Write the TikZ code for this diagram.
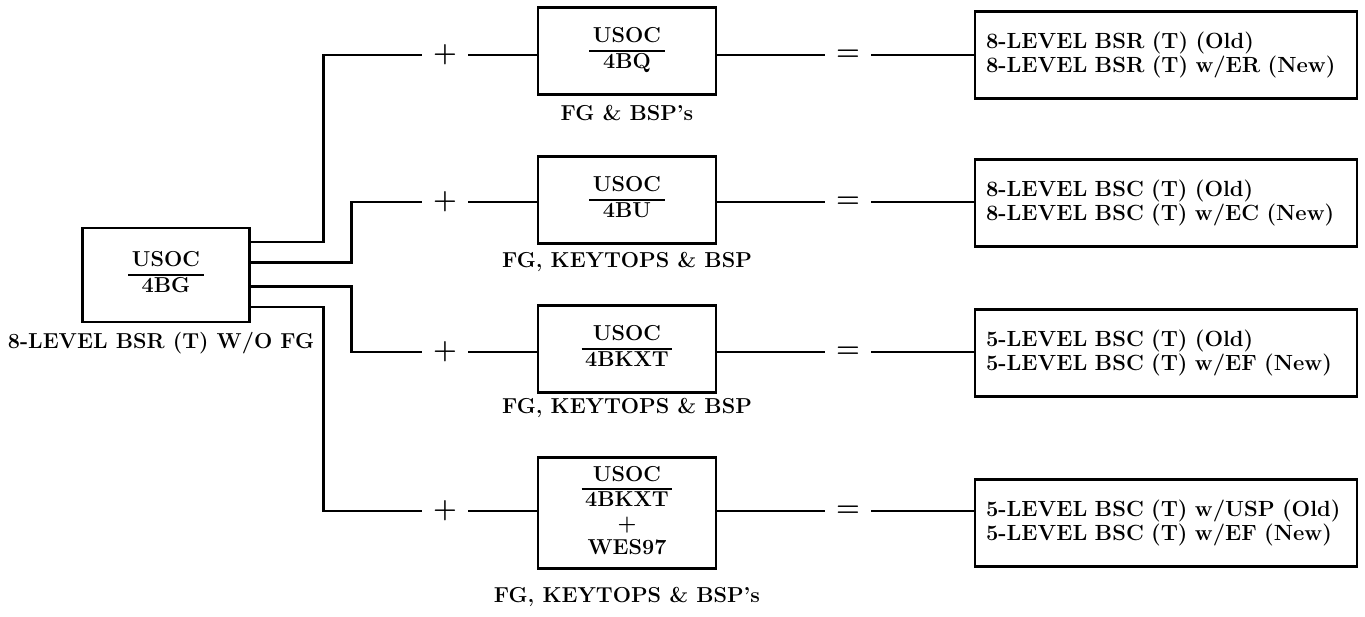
\documentclass[tikz,border=0pt]{standalone}
\usepackage{tikz}
\usetikzlibrary{calc}
\setlength{\arrayrulewidth}{1.2pt}
\newcommand{\usoc}[1]{\begin{tabular}{@{\,}c@{\,}}USOC\\\hline #1\end{tabular}}

\begin{document}
\begin{tikzpicture}[x=0.02cm, y=-0.02cm, line width=1.6pt,
      every node/.style={font=\fontsize{12.3}{13.5}\selectfont\bfseries},
      usocbox/.style={draw,minimum width=3.56cm,minimum height=1.74cm,inner sep=0pt},
      resultbox/.style={draw,minimum width=7.64cm,minimum height=1.74cm,text width=7.2cm,align=left,inner xsep=0.22cm,
        font=\fontsize{12.5}{13.6}\selectfont\bfseries},
      sign/.style={font=\fontsize{15.5}{15.5}\selectfont\bfseries,minimum width=0.88cm,inner sep=0pt}]
      \useasboundingbox (0,0) rectangle (1365,617);
      % source set
      \node[usocbox,minimum width=3.34cm,minimum height=1.88cm] (bg) at (166,275) {\usoc{4BG}};
      \node (bglabel) at (161,343) {8-LEVEL BSR (T) W/O FG};
      % added sets
      \node[usocbox] (bq) at (627,51) {\usoc{4BQ}};
      \node (bqlabel) at (627,113) {FG \& BSP's};
      \node[usocbox] (bu) at (627,200) {\usoc{4BU}};
      \node (bulabel) at (627,262) {FG, KEYTOPS \& BSP};
      \node[usocbox] (bkxt) at (627,349) {\usoc{4BKXT}};
      \node (bkxtlabel) at (627,408) {FG, KEYTOPS \& BSP};
      \node[usocbox,minimum height=2.22cm] (wes) at (627,513) {\usoc{4BKXT\\+\\WES97}};
      \node (weslabel) at (627,597) {FG, KEYTOPS \& BSP's};
      \foreach \y/\n in {55/1,202/2,352/3,511/4} {
        \node[sign] (p\n) at (445,\y) {+};
        \node[sign] (e\n) at (848,\y) {=};
      }
      % results
      \node[resultbox] (r1) at (1166,55) {8-LEVEL BSR (T) (Old)\\8-LEVEL BSR (T) w/ER (New)};
      \node[resultbox] (r2) at (1166,203) {8-LEVEL BSC (T) (Old)\\8-LEVEL BSC (T) w/EC (New)};
      \node[resultbox] (r3) at (1166,353) {5-LEVEL BSC (T) (Old)\\5-LEVEL BSC (T) w/EF (New)};
      \node[resultbox] (r4) at (1166,523) {5-LEVEL BSC (T) w/USP (Old)\\5-LEVEL BSC (T) w/EF (New)};
      % branches out of 4BG
      \draw ($(bg.north east)!0.16!(bg.south east)$) -- ++(73,0) |- (p1);
      \draw ($(bg.north east)!0.37!(bg.south east)$) -- ++(101,0) |- (p2);
      \draw ($(bg.north east)!0.62!(bg.south east)$) -- ++(101,0) |- (p3);
      \draw ($(bg.north east)!0.83!(bg.south east)$) -- ++(73,0) |- (p4);
      \foreach \n/\b in {1/bq,2/bu,3/bkxt,4/wes} {
        \draw (p\n) -- (p\n -| \b.west);
        \draw (\b.east |- e\n) -- (e\n);
        \draw (e\n) -- (e\n -| r\n.west);
      }
    \end{tikzpicture}
\end{document}
